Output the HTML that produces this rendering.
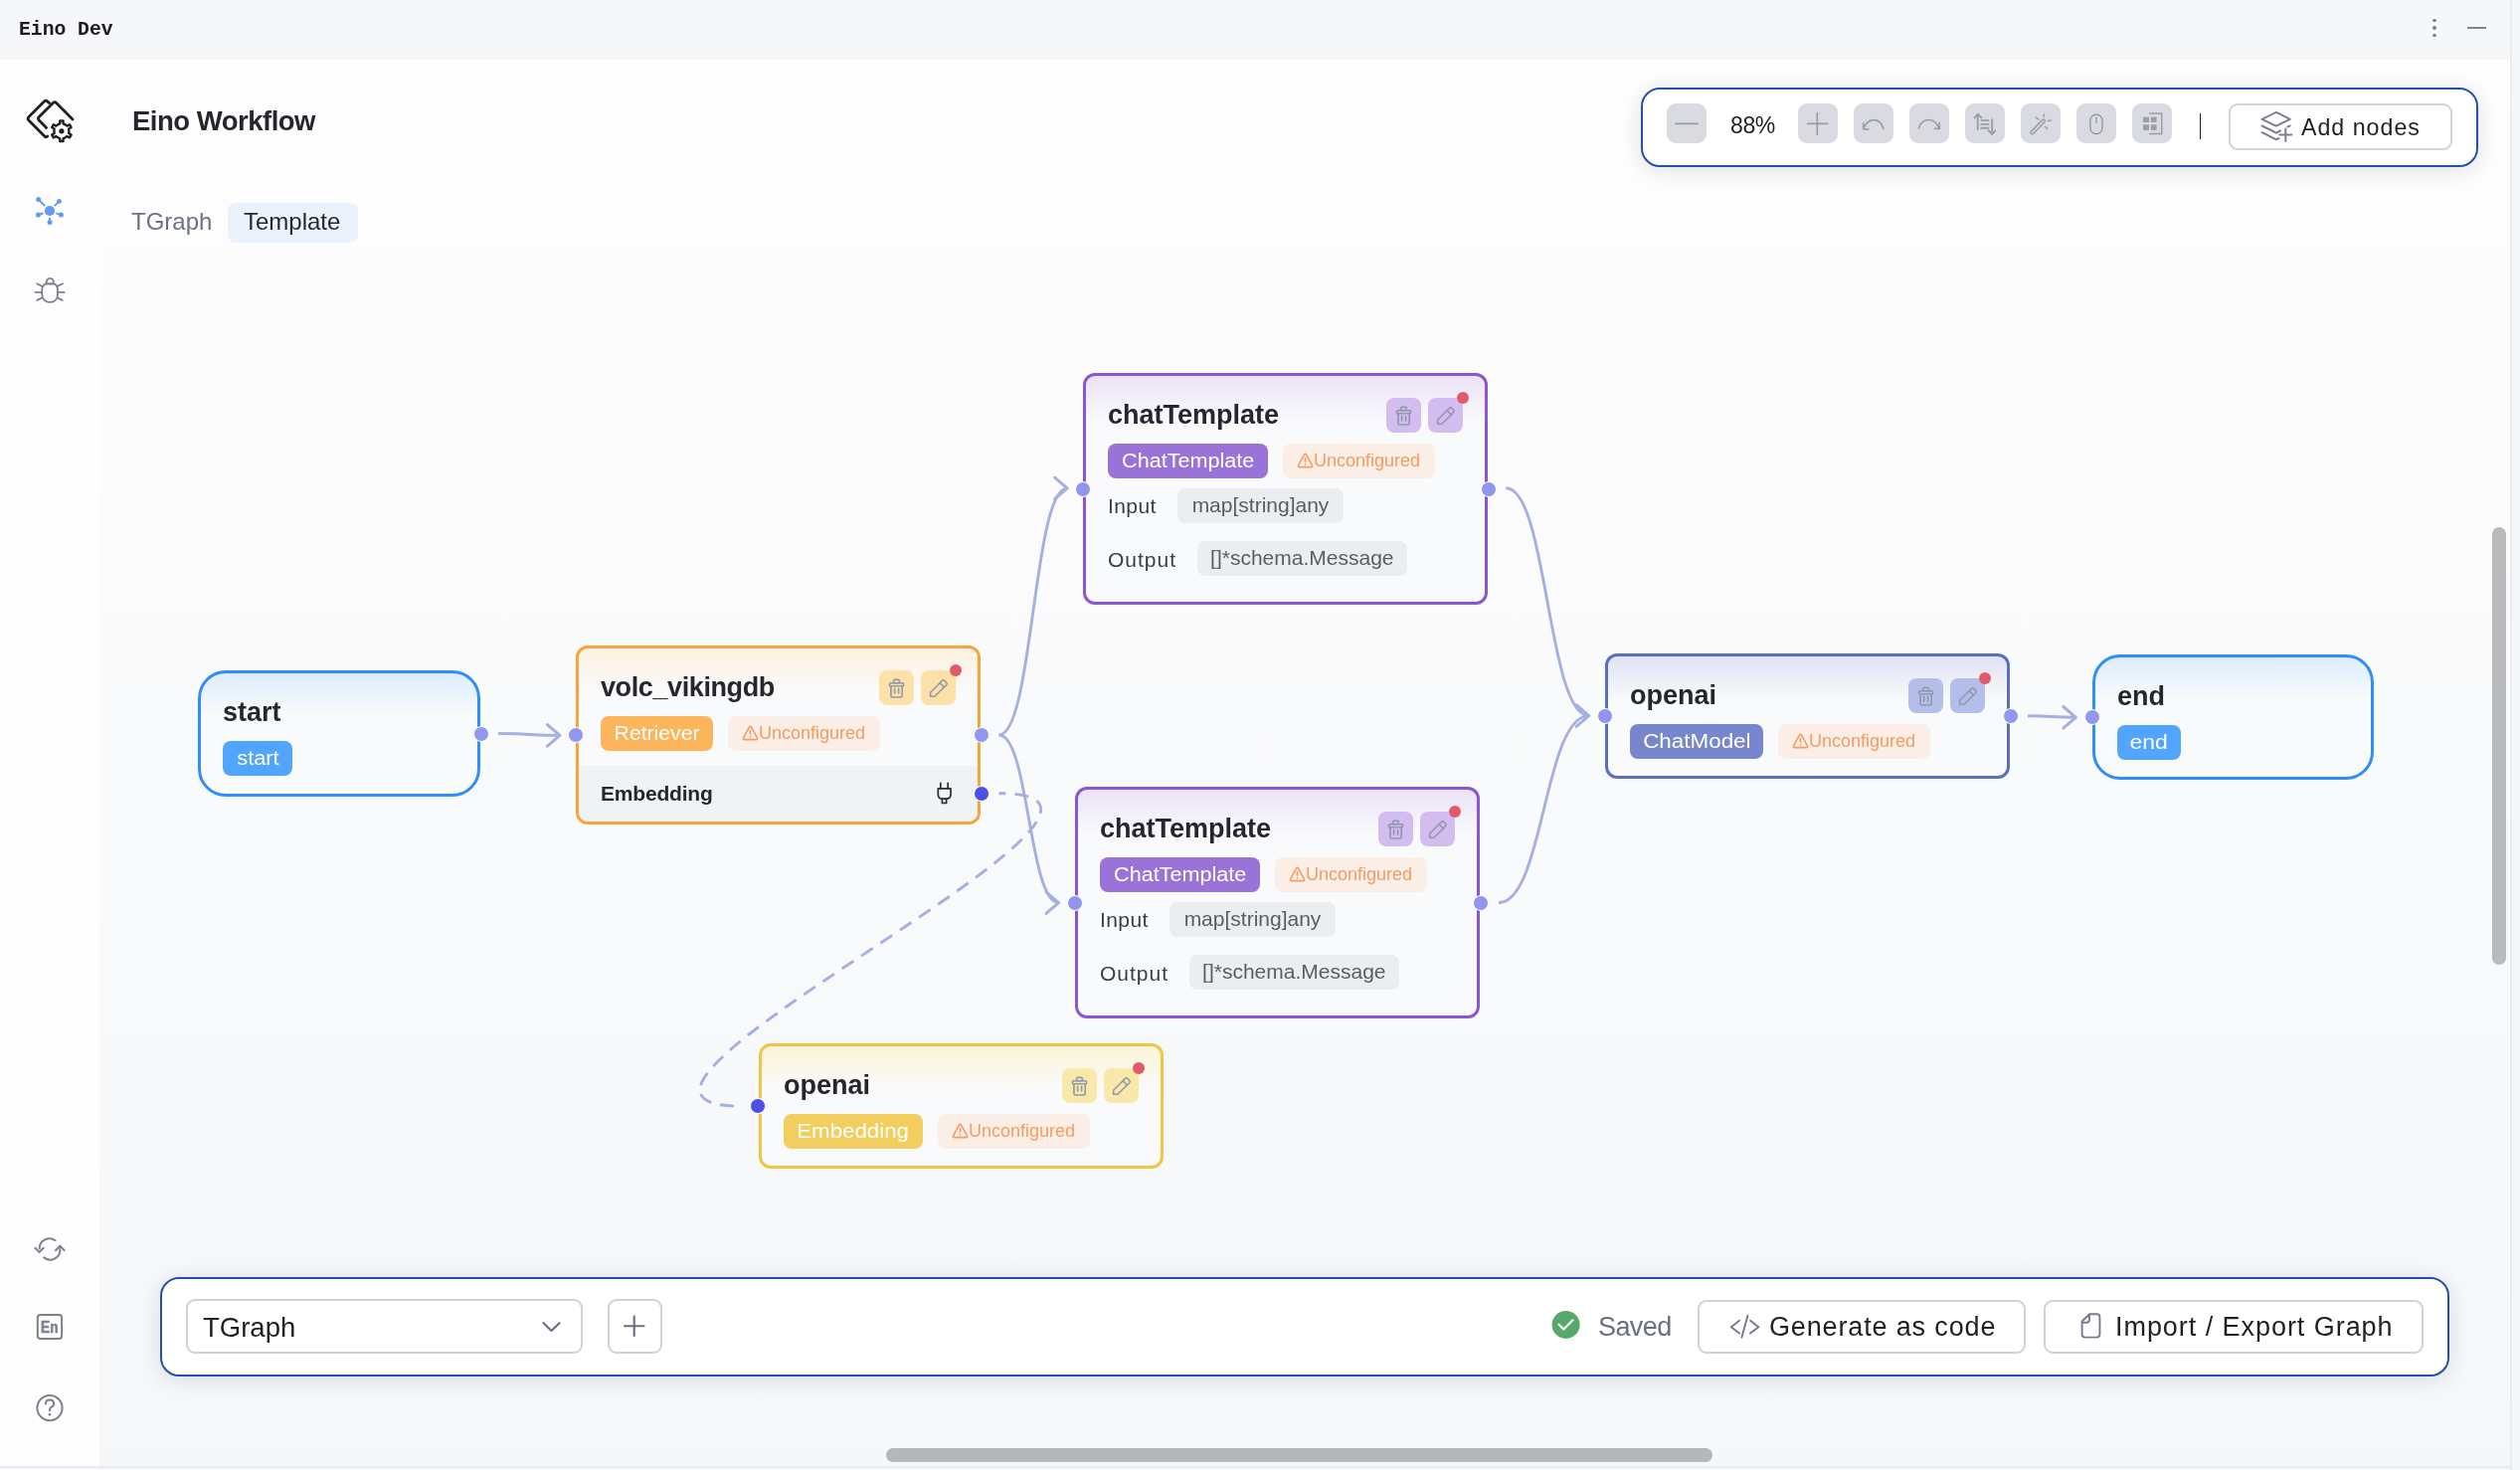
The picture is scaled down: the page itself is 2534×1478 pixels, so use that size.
<!DOCTYPE html>
<html><head><meta charset="utf-8"><title>Eino Dev</title>
<style>
*{box-sizing:border-box;margin:0;padding:0}
html,body{width:2534px;height:1478px;overflow:hidden}
body{position:relative;background:#f6f7f9;font-family:"Liberation Sans",sans-serif;color:#25272d}
.a{position:absolute}
.t{position:absolute;white-space:nowrap;line-height:1}
#top{left:0;top:0;width:2534px;height:60px;background:#f6f7f9}
#side{left:0;top:60px;width:100px;height:1414px;background:#fefefe}
#canvas{left:100px;top:60px;width:2424px;height:1414px;background:linear-gradient(180deg,#fefefe 0px,#fcfcfd 300px,#f9fafb 740px,#f6f7f9 1414px)}
#vline{left:2524px;top:0;width:2px;height:1478px;background:#e9eaee}
#hline{left:0;top:1474px;width:2524px;height:2px;background:#e9eaee}
.node{position:absolute;border:3px solid;border-radius:12px;background:#f9fafb}
.ttl{position:absolute;font-weight:bold;font-size:27px;line-height:1;color:#25272d;white-space:nowrap}
.badge{position:absolute;height:35px;border-radius:8px;color:#fff;font-size:20px;line-height:35px;text-align:center;white-space:nowrap}
.unc{position:absolute;height:35px;border-radius:8px;background:#fbeee6;color:#f59c62;font-size:18px;line-height:35px;white-space:nowrap}
.btn{position:absolute;width:35px;height:35px;border-radius:8px}
.btn svg{position:absolute;left:0;top:0}
.dot{position:absolute;width:12px;height:12px;border-radius:6px;background:#e05a68}
.h{position:absolute;width:16px;height:16px;border-radius:8px;background:#9196ef;border:1px solid #fff}
.h.dk{background:#4b50e6}
.lbl{position:absolute;font-size:20px;line-height:1;color:#3b3d42;white-space:nowrap}
.chip{position:absolute;height:35px;border-radius:8px;background:#ecedf1;color:#595d65;font-size:21px;line-height:34px;white-space:nowrap;text-align:center}
.tb{position:absolute;width:40px;height:40px;border-radius:9px;background:#d9dbe1;top:104px}
.tb svg{position:absolute;left:0;top:0}
.panel{position:absolute;background:#fff;border:2px solid #2650a6;border-radius:19px;box-shadow:0 3px 22px rgba(20,25,45,0.13)}
.obtn{position:absolute;border:2px solid #d0d2d9;border-radius:9px;background:#fff}
.t,.ttl,.badge,.unc,.lbl,.chip{will-change:transform}

</style></head>
<body>
<div id="top" class="a"></div>
<div class="t" style="left:19px;top:20.5px;font-family:'Liberation Mono',monospace;font-weight:bold;font-size:19.7px;color:#1c1c1e">Eino Dev</div>
<div class="a" style="left:2446px;top:18.5px;width:3.8px;height:3.8px;border-radius:2px;background:#80838e"></div>
<div class="a" style="left:2446px;top:26.099999999999998px;width:3.8px;height:3.8px;border-radius:2px;background:#80838e"></div>
<div class="a" style="left:2446px;top:33.699999999999996px;width:3.8px;height:3.8px;border-radius:2px;background:#80838e"></div>
<div class="a" style="left:2481px;top:27px;width:19px;height:2px;background:#80838e"></div>
<div id="side" class="a"></div>
<div id="canvas" class="a"></div>
<div id="vline" class="a"></div>
<div id="hline" class="a"></div>
<div class="t" style="left:133px;top:108px;font-size:27.5px;letter-spacing:-0.5px;font-weight:bold;color:#25272d">Eino Workflow</div>
<div class="t" style="left:132px;top:211px;font-size:24px;color:#6b7283">TGraph</div>
<div class="a" style="left:229px;top:204px;width:131px;height:40px;border-radius:8px;background:#ebf2fe"></div>
<div class="t" style="left:245px;top:211px;font-size:24px;color:#26282e">Template</div>
<svg class="a" style="left:0;top:0" width="2534" height="1478" fill="none">
<path d="M501 737.5 C532.0 737.5 532.0 739.4 563 739.4" stroke="#a5b0e0" stroke-width="2.9"/>
<path d="M1004.5 739 C1038.85 739 1038.85 490.9 1073.2 490.9" stroke="#a5b0e0" stroke-width="2.9"/>
<path d="M1004.5 739 C1034.55 739 1034.55 907.6 1064.6 907.6" stroke="#a5b0e0" stroke-width="2.9"/>
<path d="M1514.3 490.8 C1556.05 490.8 1556.05 719.6 1597.8 719.6" stroke="#a5b0e0" stroke-width="2.9"/>
<path d="M1507 907.7 C1552.4 907.7 1552.4 719.6 1597.8 719.6" stroke="#a5b0e0" stroke-width="2.9"/>
<path d="M2039 719.8 C2063.2 719.8 2063.2 721.3 2087.4 721.3" stroke="#a5b0e0" stroke-width="2.9"/>
<path d="M550.4 728.6 L563 739.4 L550.4 750.1999999999999" stroke="#a5b0e0" stroke-width="3" stroke-linecap="round" stroke-linejoin="round"/>
<path d="M1060.6000000000001 480.09999999999997 L1073.2 490.9 L1060.6000000000001 501.7" stroke="#a5b0e0" stroke-width="3" stroke-linecap="round" stroke-linejoin="round"/>
<path d="M1052.0 896.8000000000001 L1064.6 907.6 L1052.0 918.4" stroke="#a5b0e0" stroke-width="3" stroke-linecap="round" stroke-linejoin="round"/>
<path d="M1585.2 708.8000000000001 L1597.8 719.6 L1585.2 730.4" stroke="#a5b0e0" stroke-width="3" stroke-linecap="round" stroke-linejoin="round"/>
<path d="M2074.8 710.5 L2087.4 721.3 L2074.8 732.0999999999999" stroke="#a5b0e0" stroke-width="3" stroke-linecap="round" stroke-linejoin="round"/>
<path d="M1004.5 797.7 C1219.5 797.7 531 1112.3 746 1112.3" stroke="#a5b0e0" stroke-width="2.9" stroke-dasharray="14 9.21" stroke-dashoffset="7.3"/>
</svg>
<div class="node" style="left:199px;top:674px;width:284px;height:127px;border-radius:28px;border-color:#2f8ff7;background:linear-gradient(180deg,#dcecfd 0px,#f9fafb 42px,#f9fafb 100%)"></div>
<div class="ttl" style="left:223.5px;top:703.14px;letter-spacing:0px">start</div>
<div class="badge" style="left:224px;top:744.7px;width:70px;background:#52a5fd"><span style="display:inline-block;transform:scaleX(1.09)">start</span></div>
<div class="h" style="left:475.5px;top:729.5px"></div>
<div class="node" style="left:579px;top:649px;width:407px;height:180px;border-radius:12px;border-color:#f9a43b;background:linear-gradient(180deg,#fdf1df 0px,#f9fafb 44px,#f9fafb 100%)"><div class="a" style="left:0;top:117.5px;width:401px;height:56.5px;background:#f1f2f5;border-radius:0 0 9px 9px"></div><div class="t" style="left:21.5px;top:135px;font-size:21px;letter-spacing:-0.2px;font-weight:bold;color:#25272d">Embedding</div><svg class="a" style="left:357px;top:133px" width="20" height="26" viewBox="0 0 20 26" fill="none" stroke="#2a2c31" stroke-width="1.7" stroke-linecap="round" stroke-linejoin="round"><path d="M6.8 2.4 V7.6 M14.2 2.4 V7.6"/><path d="M4.3 7.9 H17 V13.5 Q17 18.2 12.3 18.2 H9 Q4.3 18.2 4.3 13.5 Z"/><path d="M8.4 18.2 V22.5 H12.6 V18.2"/></svg></div>
<div class="ttl" style="left:603.5px;top:678.14px;letter-spacing:-0.4px">volc_vikingdb</div>
<div class="badge" style="left:604px;top:719.7px;width:113px;background:#fdb55b"><span style="display:inline-block;transform:scaleX(1.06)">Retriever</span></div>
<div class="unc" style="left:731.6px;top:719.7px;width:152.5px"><svg class="a" style="left:14px;top:9px" width="17" height="16" viewBox="0 0 17 16" fill="none" stroke="#f59c62" stroke-width="1.6" stroke-linejoin="round"><path d="M7.4 2.2 Q8.5 0.6 9.6 2.2 L15.4 12.9 Q16.1 14.6 14.2 14.6 H2.8 Q0.9 14.6 1.6 12.9 Z"/><path d="M8.5 5.6 V9.3" stroke-linecap="round"/><circle cx="8.5" cy="11.7" r="0.95" fill="#f59c62" stroke="none"/></svg><span class="a" style="left:31px;top:0">Unconfigured</span></div>
<div class="btn" style="left:883.7px;top:673.5px;background:#fde1a8"><svg width="35" height="35" viewBox="0 0 35 35" fill="none" stroke="#9197ad" stroke-width="1.6" stroke-linecap="round" stroke-linejoin="round"><rect x="14.6" y="9.4" width="5.8" height="3.4" rx="1.4"/><rect x="10.5" y="12.8" width="14" height="2.9" rx="0.8"/><path d="M11.9 15.7 V25 Q11.9 27 13.9 27 H21.2 Q23.2 27 23.2 25 V15.7"/><path d="M15.6 18.4 V23 M19.6 18.4 V23"/></svg></div>
<div class="btn" style="left:926.3px;top:673.5px;background:#fde1a8"><svg width="35" height="35" viewBox="0 0 35 35" fill="none" stroke="#9197ad" stroke-width="1.6" stroke-linecap="round" stroke-linejoin="round"><path d="M9.6 22.2 L21.3 10.5 Q22.6 9.2 23.9 10.5 L25.6 12.2 Q26.9 13.5 25.6 14.8 L13.8 26.3 H9.6 Z"/><path d="M19.1 12.7 L23.4 17"/></svg></div>
<div class="dot" style="left:954.6px;top:668.3px"></div>
<div class="h" style="left:570.5px;top:731.0px"></div>
<div class="h" style="left:978.5px;top:731.0px"></div>
<div class="h dk" style="left:978.5px;top:789.8px"></div>
<div class="node" style="left:1089px;top:375px;width:407px;height:233px;border-radius:12px;border-color:#8a56d6;background:linear-gradient(180deg,#ebe1f6 0px,#f9fafb 44px,#f9fafb 100%)"></div>
<div class="ttl" style="left:1113.5px;top:404.14px;letter-spacing:0px">chatTemplate</div>
<div class="badge" style="left:1114px;top:445.7px;width:161px;background:#9a73d8"><span style="display:inline-block;transform:scaleX(1.08)">ChatTemplate</span></div>
<div class="unc" style="left:1289.6px;top:445.7px;width:152.5px"><svg class="a" style="left:14px;top:9px" width="17" height="16" viewBox="0 0 17 16" fill="none" stroke="#f59c62" stroke-width="1.6" stroke-linejoin="round"><path d="M7.4 2.2 Q8.5 0.6 9.6 2.2 L15.4 12.9 Q16.1 14.6 14.2 14.6 H2.8 Q0.9 14.6 1.6 12.9 Z"/><path d="M8.5 5.6 V9.3" stroke-linecap="round"/><circle cx="8.5" cy="11.7" r="0.95" fill="#f59c62" stroke="none"/></svg><span class="a" style="left:31px;top:0">Unconfigured</span></div>
<div class="btn" style="left:1393.7px;top:399.5px;background:#d3bcef"><svg width="35" height="35" viewBox="0 0 35 35" fill="none" stroke="#9197ad" stroke-width="1.6" stroke-linecap="round" stroke-linejoin="round"><rect x="14.6" y="9.4" width="5.8" height="3.4" rx="1.4"/><rect x="10.5" y="12.8" width="14" height="2.9" rx="0.8"/><path d="M11.9 15.7 V25 Q11.9 27 13.9 27 H21.2 Q23.2 27 23.2 25 V15.7"/><path d="M15.6 18.4 V23 M19.6 18.4 V23"/></svg></div>
<div class="btn" style="left:1436.3px;top:399.5px;background:#d3bcef"><svg width="35" height="35" viewBox="0 0 35 35" fill="none" stroke="#9197ad" stroke-width="1.6" stroke-linecap="round" stroke-linejoin="round"><path d="M9.6 22.2 L21.3 10.5 Q22.6 9.2 23.9 10.5 L25.6 12.2 Q26.9 13.5 25.6 14.8 L13.8 26.3 H9.6 Z"/><path d="M19.1 12.7 L23.4 17"/></svg></div>
<div class="dot" style="left:1464.6px;top:394.3px"></div>
<div class="h" style="left:1080.5px;top:483.5px"></div>
<div class="h" style="left:1488.5px;top:483.5px"></div>
<div class="lbl" style="left:1114px;top:498.4200000000001px;font-size:21px;letter-spacing:0.4px">Input</div>
<div class="chip" style="left:1184.3px;top:490.7px;width:167px">map[string]any</div>
<div class="lbl" style="left:1114px;top:551.52px;font-size:21px;letter-spacing:1px">Output</div>
<div class="chip" style="left:1204px;top:544.2px;width:210.6px">[]*schema.Message</div>
<div class="node" style="left:1081px;top:791px;width:407px;height:233px;border-radius:12px;border-color:#8a56d6;background:linear-gradient(180deg,#ebe1f6 0px,#f9fafb 44px,#f9fafb 100%)"></div>
<div class="ttl" style="left:1105.5px;top:820.14px;letter-spacing:0px">chatTemplate</div>
<div class="badge" style="left:1106px;top:861.7px;width:161px;background:#9a73d8"><span style="display:inline-block;transform:scaleX(1.08)">ChatTemplate</span></div>
<div class="unc" style="left:1281.6px;top:861.7px;width:152.5px"><svg class="a" style="left:14px;top:9px" width="17" height="16" viewBox="0 0 17 16" fill="none" stroke="#f59c62" stroke-width="1.6" stroke-linejoin="round"><path d="M7.4 2.2 Q8.5 0.6 9.6 2.2 L15.4 12.9 Q16.1 14.6 14.2 14.6 H2.8 Q0.9 14.6 1.6 12.9 Z"/><path d="M8.5 5.6 V9.3" stroke-linecap="round"/><circle cx="8.5" cy="11.7" r="0.95" fill="#f59c62" stroke="none"/></svg><span class="a" style="left:31px;top:0">Unconfigured</span></div>
<div class="btn" style="left:1385.7px;top:815.5px;background:#d3bcef"><svg width="35" height="35" viewBox="0 0 35 35" fill="none" stroke="#9197ad" stroke-width="1.6" stroke-linecap="round" stroke-linejoin="round"><rect x="14.6" y="9.4" width="5.8" height="3.4" rx="1.4"/><rect x="10.5" y="12.8" width="14" height="2.9" rx="0.8"/><path d="M11.9 15.7 V25 Q11.9 27 13.9 27 H21.2 Q23.2 27 23.2 25 V15.7"/><path d="M15.6 18.4 V23 M19.6 18.4 V23"/></svg></div>
<div class="btn" style="left:1428.3px;top:815.5px;background:#d3bcef"><svg width="35" height="35" viewBox="0 0 35 35" fill="none" stroke="#9197ad" stroke-width="1.6" stroke-linecap="round" stroke-linejoin="round"><path d="M9.6 22.2 L21.3 10.5 Q22.6 9.2 23.9 10.5 L25.6 12.2 Q26.9 13.5 25.6 14.8 L13.8 26.3 H9.6 Z"/><path d="M19.1 12.7 L23.4 17"/></svg></div>
<div class="dot" style="left:1456.6px;top:810.3px"></div>
<div class="h" style="left:1072.5px;top:899.5px"></div>
<div class="h" style="left:1480.5px;top:899.5px"></div>
<div class="lbl" style="left:1106px;top:914.4200000000001px;font-size:21px;letter-spacing:0.4px">Input</div>
<div class="chip" style="left:1176.3px;top:906.7px;width:167px">map[string]any</div>
<div class="lbl" style="left:1106px;top:967.52px;font-size:21px;letter-spacing:1px">Output</div>
<div class="chip" style="left:1196px;top:960.2px;width:210.6px">[]*schema.Message</div>
<div class="node" style="left:1614px;top:657px;width:407px;height:126px;border-radius:12px;border-color:#5b6ec6;background:linear-gradient(180deg,#dfe2f4 0px,#f9fafb 44px,#f9fafb 100%)"></div>
<div class="ttl" style="left:1638.5px;top:686.14px;letter-spacing:0px">openai</div>
<div class="badge" style="left:1639px;top:727.7px;width:134.3px;background:#7886cd"><span style="display:inline-block;transform:scaleX(1.12)">ChatModel</span></div>
<div class="unc" style="left:1787.8999999999999px;top:727.7px;width:152.5px"><svg class="a" style="left:14px;top:9px" width="17" height="16" viewBox="0 0 17 16" fill="none" stroke="#f59c62" stroke-width="1.6" stroke-linejoin="round"><path d="M7.4 2.2 Q8.5 0.6 9.6 2.2 L15.4 12.9 Q16.1 14.6 14.2 14.6 H2.8 Q0.9 14.6 1.6 12.9 Z"/><path d="M8.5 5.6 V9.3" stroke-linecap="round"/><circle cx="8.5" cy="11.7" r="0.95" fill="#f59c62" stroke="none"/></svg><span class="a" style="left:31px;top:0">Unconfigured</span></div>
<div class="btn" style="left:1918.7px;top:681.5px;background:#b3bfe9"><svg width="35" height="35" viewBox="0 0 35 35" fill="none" stroke="#9197ad" stroke-width="1.6" stroke-linecap="round" stroke-linejoin="round"><rect x="14.6" y="9.4" width="5.8" height="3.4" rx="1.4"/><rect x="10.5" y="12.8" width="14" height="2.9" rx="0.8"/><path d="M11.9 15.7 V25 Q11.9 27 13.9 27 H21.2 Q23.2 27 23.2 25 V15.7"/><path d="M15.6 18.4 V23 M19.6 18.4 V23"/></svg></div>
<div class="btn" style="left:1961.3px;top:681.5px;background:#b3bfe9"><svg width="35" height="35" viewBox="0 0 35 35" fill="none" stroke="#9197ad" stroke-width="1.6" stroke-linecap="round" stroke-linejoin="round"><path d="M9.6 22.2 L21.3 10.5 Q22.6 9.2 23.9 10.5 L25.6 12.2 Q26.9 13.5 25.6 14.8 L13.8 26.3 H9.6 Z"/><path d="M19.1 12.7 L23.4 17"/></svg></div>
<div class="dot" style="left:1989.6px;top:676.3px"></div>
<div class="h" style="left:1605.5px;top:712.0px"></div>
<div class="h" style="left:2013.5px;top:712.0px"></div>
<div class="node" style="left:2104px;top:658px;width:283px;height:126px;border-radius:28px;border-color:#2f8ff7;background:linear-gradient(180deg,#dcecfd 0px,#f9fafb 42px,#f9fafb 100%)"></div>
<div class="ttl" style="left:2128.5px;top:687.14px;letter-spacing:0px">end</div>
<div class="badge" style="left:2129px;top:728.7px;width:64.1px;background:#52a5fd"><span style="display:inline-block;transform:scaleX(1.15)">end</span></div>
<div class="h" style="left:2095.5px;top:713.0px"></div>
<div class="node" style="left:763px;top:1049px;width:407px;height:126px;border-radius:12px;border-color:#f1c544;background:linear-gradient(180deg,#fcf4d8 0px,#f9fafb 44px,#f9fafb 100%)"></div>
<div class="ttl" style="left:787.5px;top:1078.14px;letter-spacing:0px">openai</div>
<div class="badge" style="left:788px;top:1119.7px;width:140px;background:#f2ce5f"><span style="display:inline-block;transform:scaleX(1.115)">Embedding</span></div>
<div class="unc" style="left:942.6px;top:1119.7px;width:152.5px"><svg class="a" style="left:14px;top:9px" width="17" height="16" viewBox="0 0 17 16" fill="none" stroke="#f59c62" stroke-width="1.6" stroke-linejoin="round"><path d="M7.4 2.2 Q8.5 0.6 9.6 2.2 L15.4 12.9 Q16.1 14.6 14.2 14.6 H2.8 Q0.9 14.6 1.6 12.9 Z"/><path d="M8.5 5.6 V9.3" stroke-linecap="round"/><circle cx="8.5" cy="11.7" r="0.95" fill="#f59c62" stroke="none"/></svg><span class="a" style="left:31px;top:0">Unconfigured</span></div>
<div class="btn" style="left:1067.7px;top:1073.5px;background:#f8e9a9"><svg width="35" height="35" viewBox="0 0 35 35" fill="none" stroke="#9197ad" stroke-width="1.6" stroke-linecap="round" stroke-linejoin="round"><rect x="14.6" y="9.4" width="5.8" height="3.4" rx="1.4"/><rect x="10.5" y="12.8" width="14" height="2.9" rx="0.8"/><path d="M11.9 15.7 V25 Q11.9 27 13.9 27 H21.2 Q23.2 27 23.2 25 V15.7"/><path d="M15.6 18.4 V23 M19.6 18.4 V23"/></svg></div>
<div class="btn" style="left:1110.3px;top:1073.5px;background:#f8e9a9"><svg width="35" height="35" viewBox="0 0 35 35" fill="none" stroke="#9197ad" stroke-width="1.6" stroke-linecap="round" stroke-linejoin="round"><path d="M9.6 22.2 L21.3 10.5 Q22.6 9.2 23.9 10.5 L25.6 12.2 Q26.9 13.5 25.6 14.8 L13.8 26.3 H9.6 Z"/><path d="M19.1 12.7 L23.4 17"/></svg></div>
<div class="dot" style="left:1138.6px;top:1068.3px"></div>
<div class="h" style="left:754.5px;top:1104.0px"></div>
<div class="h dk" style="left:754.3px;top:1104.4px"></div>
<svg class="a" style="left:0;top:60px" width="100" height="1415" viewBox="0 60 100 1415" fill="none">
<g stroke="#1f2024" stroke-width="2.8" stroke-linecap="round" stroke-linejoin="round"><path d="M49.6 103.6 L47.6 101.9 Q46 100.6 44.4 102.1 L28.9 117.6 Q27.3 119.3 28.9 121 L44.8 136.9 Q46.3 138.4 47.8 137"/><path d="M46.6 128.6 L39.3 121.1 Q37.6 119.3 39.3 117.6 L53.4 103.4 Q55 101.8 56.6 103.4 L73 119.9"/></g><path d="M59.05 124.75 L60.19 124.39 L60.27 121.53 L63.53 121.53 L63.61 124.39 L66.58 125.81 L67.46 126.62 L69.98 125.26 L71.61 128.07 L69.17 129.58 L69.43 132.86 L69.17 134.02 L71.61 135.53 L69.98 138.34 L67.46 136.98 L64.75 138.85 L63.61 139.21 L63.53 142.07 L60.27 142.07 L60.19 139.21 L57.22 137.79 L56.34 136.98 L53.82 138.34 L52.19 135.53 L54.63 134.02 L54.37 130.74 L54.63 129.58 L52.19 128.07 L53.82 125.26 L56.34 126.62 Z" stroke="#1f2024" stroke-width="2.4" stroke-linejoin="round" fill="#fefefe"/><circle cx="61.9" cy="131.8" r="2.6" fill="#1f2024"/><g stroke="#6499f6" stroke-width="1.9" stroke-linecap="butt"><line x1="45.21" y1="207.17" x2="38.60" y2="200.50"/><line x1="54.78" y1="207.17" x2="59.50" y2="202.40"/><line x1="43.59" y1="214.27" x2="38.40" y2="216.10"/><line x1="56.40" y1="214.30" x2="61.40" y2="216.10"/><line x1="50.00" y1="218.80" x2="50.00" y2="223.50"/></g><g fill="#6499f6"><circle cx="50" cy="212" r="5.1"/><circle cx="38.6" cy="200.5" r="2.5"/><circle cx="59.5" cy="202.4" r="2.4"/><circle cx="38.4" cy="216.1" r="2.5"/><circle cx="61.4" cy="216.1" r="2.5"/><circle cx="50" cy="223.5" r="2.5"/></g><g stroke="#7c818c" stroke-width="1.8" stroke-linecap="round" stroke-linejoin="round"><path d="M46.6 285.3 C46.6 278 53.9 278 53.9 285.3 Z"/><path d="M45.9 285.3 C43.5 286.3 42.2 288.5 42.2 291.8 V295.5 C42.2 300.6 45.6 303.9 50.2 303.9 C54.8 303.9 58 300.6 58 295.5 V291.8 C58 288.5 56.8 286.3 54.5 285.3 Z"/><path d="M37.1 285.3 L42.2 287.8 M35.4 293.8 H41.7 M37.3 301.9 L41.9 299.6 M62.9 285.3 L57.8 287.8 M64.6 293.8 H58.3 M62.7 301.9 L58.1 299.6"/></g><g stroke="#7c818c" stroke-width="2" stroke-linecap="round" stroke-linejoin="round"><path d="M55.6 1247.2 A10 10 0 0 0 39.7 1255.5"/><path d="M35.4 1254.8 L39.5 1259.1 L43.6 1254.8"/><path d="M44.2 1264.4 A10 10 0 0 0 60.4 1255.6"/><path d="M55.9 1257.2 L60.4 1252.6 L64.6 1257.2"/></g><rect x="37.8" y="1321.9" width="24.3" height="24.1" rx="3" stroke="#7c818c" stroke-width="2"/><text x="41" y="1340" font-family="Liberation Sans" font-weight="bold" font-size="15.6" fill="#7c818c" stroke="#7c818c" stroke-width="0.6" textLength="17.5" lengthAdjust="spacingAndGlyphs">En</text><circle cx="50" cy="1415.6" r="12.6" stroke="#7c818c" stroke-width="2"/><path d="M45.9 1411.6 Q45.9 1407.4 50 1407.4 Q54.1 1407.4 54.1 1411.2 Q54.1 1413.6 51.5 1414.8 Q50 1415.6 50 1417.6 V1418.3" stroke="#7c818c" stroke-width="2" stroke-linecap="round"/><circle cx="50" cy="1422.3" r="1.3" fill="#7c818c"/></svg>
<div class="panel" style="left:1650px;top:88px;width:842px;height:80px"></div>
<div class="tb" style="left:1676px"><svg width="40" height="40" viewBox="0 0 40 40" fill="none" stroke="#9a9eab" stroke-width="1.7" stroke-linecap="round" stroke-linejoin="round"><path d="M9 20.4 H31"/></svg></div>
<div class="t" style="left:1739.5px;top:115.4px;font-size:23px;letter-spacing:-0.4px;color:#222327">88%</div>
<div class="tb" style="left:1808px"><svg width="40" height="40" viewBox="0 0 40 40" fill="none" stroke="#9a9eab" stroke-width="1.7" stroke-linecap="round" stroke-linejoin="round"><path d="M19.3 9.7 V31.2 M9.8 20.4 H29.5"/></svg></div>
<div class="tb" style="left:1864px"><svg width="40" height="40" viewBox="0 0 40 40" fill="none" stroke="#9a9eab" stroke-width="1.7" stroke-linecap="round" stroke-linejoin="round"><path d="M30 25.5 Q27.5 16.6 20.2 16.6 Q13.6 16.6 10 24.9"/><path d="M9.7 19.8 V25.7 L14.7 26.2"/></svg></div>
<div class="tb" style="left:1920px"><svg width="40" height="40" viewBox="0 0 40 40" fill="none" stroke="#9a9eab" stroke-width="1.7" stroke-linecap="round" stroke-linejoin="round"><path d="M9.5 24.7 Q12.2 16.5 19.4 16.5 Q26.2 16.5 30.2 25.4"/><path d="M25.7 25.4 H30.2 V19.7"/></svg></div>
<div class="tb" style="left:1976px"><svg width="40" height="40" viewBox="0 0 40 40" fill="none" stroke="#9a9eab" stroke-width="1.7" stroke-linecap="round" stroke-linejoin="round"><path d="M12.7 26 V10.8 M9.5 14.4 L12.7 10.8 L16.5 14.4" stroke-width="1.9"/><path d="M16.2 17.1 H23.5 M16.2 20.9 H23.5 M16.2 24.7 H23.5" stroke-width="1.9"/><path d="M27.1 16.1 V31 M23.6 27.3 L27.1 31 L30.2 27.3" stroke-width="1.9"/></svg></div>
<div class="tb" style="left:2032px"><svg width="40" height="40" viewBox="0 0 40 40" fill="none" stroke="#9a9eab" stroke-width="1.7" stroke-linecap="round" stroke-linejoin="round"><path d="M11.5 29.2 L22.9 17.7" stroke-width="4.6"/><path d="M11.5 29.2 L22.9 17.7" stroke="#d9dbe1" stroke-width="1.6"/><path d="M15.3 14.2 L17.8 16.1 M23.2 11 V13.3 M27.4 17.5 L30.3 16.9 M24.4 23.2 L26.7 25.4" stroke-width="1.5"/></svg></div>
<div class="tb" style="left:2088px"><svg width="40" height="40" viewBox="0 0 40 40" fill="none" stroke="#9a9eab" stroke-width="1.7" stroke-linecap="round" stroke-linejoin="round"><rect x="13.9" y="11.1" width="12.1" height="19.6" rx="6" stroke-width="1.2" stroke="#8a8e9c"/><path d="M19.9 14.2 V19.3" stroke-width="1.2" stroke="#8a8e9c"/></svg></div>
<div class="tb" style="left:2144px"><svg width="40" height="40" viewBox="0 0 40 40" fill="none" stroke="#9a9eab" stroke-width="1.7" stroke-linecap="round" stroke-linejoin="round"><g fill="#9a9eab" stroke="none"><rect x="11" y="13.7" width="6" height="5.3"/><rect x="18.9" y="13.7" width="5.7" height="5.3"/><rect x="11" y="21.3" width="6" height="5.6"/><rect x="18.9" y="21.3" width="5.7" height="5.6"/></g><path d="M17.3 10.1 H29.7 V30.4 H17.3" stroke-width="1.5" stroke-linecap="butt" stroke-linejoin="miter"/></svg></div>
<div class="a" style="left:2211.8px;top:114px;width:1.4px;height:26px;background:#222327"></div>
<div class="obtn" style="left:2241.4px;top:104.4px;width:224.2px;height:47px"></div>
<svg class="a" style="left:2270px;top:108px" width="40" height="40" viewBox="2270 108 40 40" fill="none" stroke="#7b7f90" stroke-width="2" stroke-linejoin="round" stroke-linecap="round"><path d="M2274.6 119.8 L2288.9 112.8 L2302.8 119.8 L2288.9 126.7 Z"/><path d="M2274.6 126.5 L2288.9 133.6 L2293 131.5 M2300.5 127.5 L2302.6 126.5"/><path d="M2274.6 133.2 L2288.9 140.4 L2291.5 139"/><path d="M2298.3 129.6 V142 M2292.2 135.6 H2304.4"/></svg>
<div class="t" style="left:2313.5px;top:117px;font-size:23.2px;letter-spacing:1px;color:#1f2024">Add nodes</div>
<div class="panel" style="left:161px;top:1284px;width:2302px;height:99.5px"></div>
<div class="obtn" style="left:187px;top:1306.4px;width:399px;height:55px"></div>
<div class="t" style="left:203.5px;top:1321.3px;font-size:27.5px;color:#1f2024">TGraph</div>
<svg class="a" style="left:540px;top:1322px" width="30" height="24" viewBox="540 1322 30 24" fill="none" stroke="#6b6f7d" stroke-width="2.1" stroke-linecap="round" stroke-linejoin="round"><path d="M546.5 1330.2 L554.5 1338 L562.5 1330.2"/></svg>
<div class="obtn" style="left:611.2px;top:1306.4px;width:54.5px;height:55px"></div>
<svg class="a" style="left:620px;top:1316px" width="36" height="36" viewBox="620 1316 36 36" fill="none" stroke="#6b6f7d" stroke-width="2.1" stroke-linecap="round"><path d="M637.7 1323.6 V1343 M628 1333.3 H647.5"/></svg>
<svg class="a" style="left:1558px;top:1315px" width="34" height="34" viewBox="1558 1315 34 34"><circle cx="1574.6" cy="1331.9" r="14" fill="#56a96a"/><path d="M1567.6 1331.7 L1572.4 1336.5 L1581.3 1327.5" fill="none" stroke="#fff" stroke-width="2.1" stroke-linecap="square"/></svg>
<div class="t" style="left:1607px;top:1320.5px;font-size:27px;letter-spacing:-0.6px;color:#6b7080">Saved</div>
<div class="obtn" style="left:1707px;top:1307.1px;width:330.1px;height:53.7px"></div>
<svg class="a" style="left:1735px;top:1318px" width="38" height="32" viewBox="1735 1318 38 32" fill="none" stroke="#747a8c" stroke-width="1.9" stroke-linecap="round" stroke-linejoin="round"><path d="M1749.1 1327.8 L1740.8 1334.2 L1749.1 1340.6 M1757.5 1322.6 L1751.4 1344.8 M1760 1327.8 L1768.3 1334.2 L1760 1340.6"/></svg>
<div class="t" style="left:1779px;top:1321px;font-size:27px;letter-spacing:0.85px;color:#1f2024">Generate as code</div>
<div class="obtn" style="left:2055.3px;top:1306.7px;width:381.7px;height:54.7px"></div>
<svg class="a" style="left:2088px;top:1316px" width="30" height="34" viewBox="2088 1316 30 34" fill="none" stroke="#777c8c" stroke-width="1.9" stroke-linejoin="round"><path d="M2101 1321.2 H2108.4 Q2111.4 1321.2 2111.4 1324.2 V1341.6 Q2111.4 1344.6 2108.4 1344.6 H2096.6 Q2093.6 1344.6 2093.6 1341.6 V1328.5 Z"/><path d="M2101 1321.2 V1326.8 Q2101 1329.8 2098 1329.8 H2093.6"/></svg>
<div class="t" style="left:2127px;top:1321px;font-size:27px;letter-spacing:0.95px;color:#1f2024">Import / Export Graph</div>
<div class="a" style="left:891px;top:1456px;width:831px;height:14px;border-radius:7px;background:#b4b7bb"></div>
<div class="a" style="left:2506px;top:530px;width:14px;height:440px;border-radius:7px;background:#b8babc"></div>
</body></html>
